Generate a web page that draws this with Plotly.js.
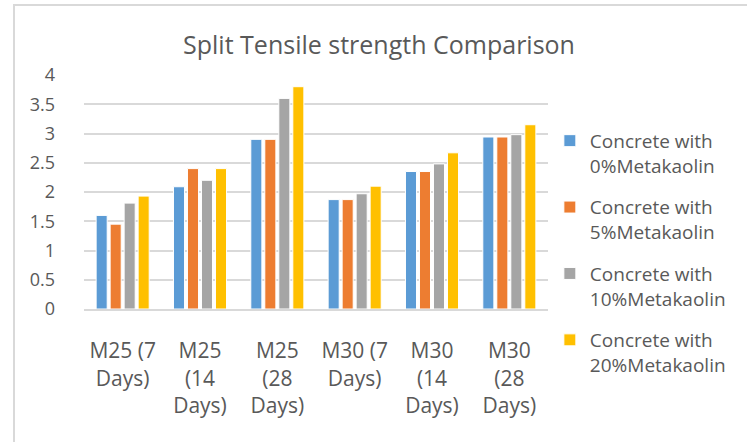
<!DOCTYPE html>
<html><head><meta charset="utf-8">
<script src="https://cdn.plot.ly/plotly-3.0.1.min.js"></script>
<style>
html,body{margin:0;padding:0;background:#fff;overflow:hidden}
#chart{width:747px;height:442px;position:absolute;left:0;top:0}
#frame{position:absolute;left:13px;top:4px;width:760px;height:460px;border:2px solid #d9d9d9;pointer-events:none}
</style></head>
<body>
<div id="chart"></div>
<div id="frame"></div>
<script>
const categories = ["M25 (7<br>Days)", "M25<br>(14<br>Days)", "M25<br>(28<br>Days)", "M30 (7<br>Days)", "M30<br>(14<br>Days)", "M30<br>(28<br>Days)"];
const seriesNames = ["Concrete with<br>0%Metakaolin", "Concrete with<br>5%Metakaolin", "Concrete with<br>10%Metakaolin", "Concrete with<br>20%Metakaolin"];
const mk0  = [1.60, 2.09, 2.90, 1.87, 2.35, 2.94];
const mk5  = [1.45, 2.40, 2.90, 1.87, 2.35, 2.94];
const mk10 = [1.81, 2.20, 3.60, 1.97, 2.48, 2.98];
const mk20 = [1.93, 2.40, 3.80, 2.10, 2.67, 3.15];
const colors = ["#5B9BD5", "#ED7D31", "#A5A5A5", "#FFC000"];
const yTicks = [0, 0.5, 1, 1.5, 2, 2.5, 3, 3.5, 4];

const values = [mk0, mk5, mk10, mk20];
const font = "'Open Sans', sans-serif";
const textColor = "#595959";

const traces = values.map((v, i) => ({
  type: "bar",
  x: categories,
  y: v,
  name: seriesNames[i],
  legendgroup: "g" + i,
  marker: {color: colors[i], line: {color: "#ffffff", width: 1}},
  hoverinfo: "skip"
}));

const layout = {
  width: 747, height: 442,
  margin: {l: 84, r: 199, t: 75, b: 133},
  paper_bgcolor: "#ffffff", plot_bgcolor: "#ffffff",
  font: {family: font, color: textColor, size: 19},
  title: {text: "Split Tensile strength Comparison", font: {family: font, size: 25, color: textColor},
          x: 379/747, xref: "container", xanchor: "center", y: 1 - 45/442, yref: "container", yanchor: "middle"},
  barmode: "group",
  bargap: 0.276,
  bargroupgap: 0.21,
  xaxis: {type: "category", showgrid: false, showline: true, linecolor: "#d9d9d9", linewidth: 2,
          ticks: "", tickfont: {size: 21, color: textColor}, ticklabelstandoff: 22, automargin: false},
  yaxis: {range: [0, 4], tickvals: yTicks, ticktext: yTicks.map(String), showgrid: true, gridcolor: "#d9d9d9", gridwidth: 2,
          zeroline: false, showline: false, ticks: "", tickfont: {size: 18, color: textColor}, ticklabelstandoff: 28, automargin: false},
  showlegend: true,
  legend: {x: 1.004, xanchor: "left", y: 0.80, yanchor: "top", valign: "top", maxheight: 360,
           font: {size: 19, color: textColor, family: font}, tracegroupgap: 14, itemclick: false}
};

Plotly.newPlot("chart", traces, layout, {staticPlot: true, displayModeBar: false});
</script>
</body></html>
